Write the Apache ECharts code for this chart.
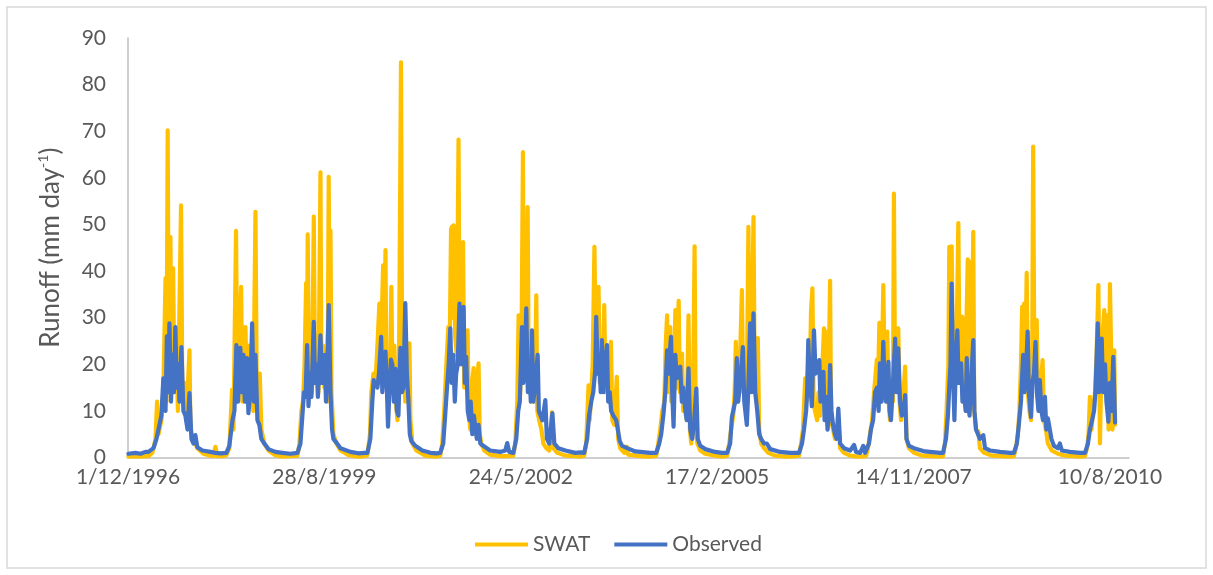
<!DOCTYPE html>
<html>
<head>
<meta charset="utf-8">
<script src="https://cdn.jsdelivr.net/npm/echarts@6/dist/echarts.min.js"></script>
<style>
  html, body { margin: 0; padding: 0; background: #fff; }
  #runoff-chart { width: 1213px; height: 575px; }
</style>
</head>
<body>
<div id="runoff-chart"></div>
<script>
// Excel date serials (1/12/1996 = 35400) and daily runoff, mm/day
const axisStartSerial = 35400
const axisEndSerial = 40497

const swatDay = [
  35402, 35438, 35464, 35489,
  35504, 35524, 35540, 35548, 35555, 35570, 35580, 35591, 35596, 35602, 35608, 35616, 35621, 35630, 35636, 35647, 35654, 35670, 35677, 35687, 35697, 35713, 35718, 35733, 35753, 35784, 35820,
  35835, 35845, 35855, 35881,
  35901, 35916, 35930, 35937, 35950, 35957, 35965, 35976, 35982, 35990, 35998, 36005, 36013, 36023, 36031, 36038, 36049, 36056, 36071, 36079, 36094, 36115, 36150,
  36186, 36227,
  36263, 36273, 36283, 36291, 36299, 36307, 36311, 36315, 36322, 36329, 36337, 36346, 36352, 36362, 36370, 36380, 36385, 36393, 36400, 36411, 36416, 36422, 36427, 36431, 36436, 36446, 36461, 36482, 36523,
  36573, 36604,
  36619, 36632, 36639, 36650, 36660, 36670, 36680, 36685, 36699, 36704, 36711, 36716, 36726, 36734, 36741, 36746, 36756, 36764, 36772, 36779, 36790, 36796, 36802, 36812, 36820, 36828, 36833, 36838, 36848, 36868, 36914,
  36940, 36970,
  36990, 37000, 37010, 37021, 37031, 37038, 37045, 37050, 37054, 37058, 37066, 37074, 37083, 37089, 37097, 37106, 37112, 37120, 37129, 37135, 37143, 37150, 37160, 37166, 37173, 37185, 37191, 37199, 37214, 37244, 37295,
  37331,
  37362, 37372, 37382, 37389, 37395, 37403, 37411, 37416, 37423, 37435, 37441, 37449, 37456, 37465, 37471, 37479, 37484, 37494, 37505, 37515, 37530, 37545, 37559, 37566, 37586, 37627,
  37678, 37703,
  37723, 37733, 37745, 37751, 37759, 37766, 37775, 37782, 37787, 37796, 37802, 37810, 37817, 37825, 37832, 37840, 37848, 37859, 37866, 37876, 37889, 37896, 37906, 37927, 37940, 37947, 38008,
  38059,
  38090, 38100, 38110, 38121, 38131, 38138, 38145, 38149, 38155, 38161, 38166, 38174, 38182, 38187, 38192, 38197, 38204, 38210, 38221, 38227, 38238, 38245, 38254, 38261, 38268, 38276, 38285, 38291, 38299, 38314, 38339, 38390,
  38425,
  38451, 38461, 38471, 38482, 38489, 38495, 38502, 38510, 38517, 38526, 38532, 38543, 38550, 38559, 38566, 38573, 38578, 38585, 38591, 38599, 38607, 38614, 38624, 38639, 38660, 38695,
  38721, 38772,
  38817, 38827, 38837, 38848, 38855, 38863, 38870, 38878, 38885, 38891, 38898, 38909, 38916, 38924, 38934, 38944, 38949, 38954, 38960, 38967, 38975, 38980, 38990, 39000, 39017, 39026, 39046, 39077,
  39097, 39128,
  39158, 39168, 39178, 39189, 39199, 39213, 39219, 39226, 39232, 39239, 39246, 39252, 39260, 39266, 39273, 39280, 39288, 39295, 39300, 39306, 39313, 39322, 39329, 39336, 39346, 39357, 39364, 39377, 39402, 39443,
  39490, 39535,
  39550, 39560, 39568, 39577, 39582, 39588, 39594, 39601, 39609, 39616, 39621, 39628, 39634, 39642, 39648, 39654, 39662, 39670, 39676, 39682, 39687, 39693, 39698, 39704, 39709, 39718, 39730, 39738, 39759, 39799,
  39850, 39891,
  39911, 39921, 39931, 39939, 39947, 39953, 39958, 39963, 39970, 39976, 39982, 39990, 39998, 40004, 40009, 40015, 40020, 40027, 40033, 40041, 40048, 40057, 40064, 40074, 40084, 40104, 40135, 40171,
  40220, 40247,
  40273, 40283, 40291, 40298, 40306, 40314, 40324, 40332, 40341, 40347, 40349, 40354, 40362, 40371, 40377, 40387, 40393, 40400, 40408, 40413, 40422, 40426
]
const swatRunoff = [
  0.2, 0.3, 0.2, 0.3,
  0.3, 1, 4, 12, 5, 8, 14, 38.5, 12, 70.2, 15, 47.3, 18, 40.6, 14, 22, 10, 54.1, 12, 16, 8, 23, 6, 4, 2, 0.8, 0.4,
  0.3, 2.3, 0.3, 0.3,
  0.5, 2, 14.5, 6, 48.6, 14, 22, 36.6, 12, 20, 28, 14, 24, 12, 22, 10, 52.7, 12, 18, 6, 3, 1.5, 0.5,
  0.2, 0.3,
  0.4, 3, 10, 12, 20, 37.4, 14, 47.9, 16, 20, 14, 51.7, 18, 26, 14, 61.2, 16, 24, 15, 22, 12, 60.2, 18, 48.7, 14, 5, 3, 1.5, 0.5,
  0.2, 0.3,
  0.5, 5, 14, 18, 16, 24, 33, 18, 41.2, 20, 44.5, 16, 22, 15, 36.6, 18, 24, 12, 8, 14, 84.8, 18, 20, 12, 24.5, 14, 24.5, 8, 3, 1.5, 0.4,
  0.3, 0.2,
  0.4, 3, 10, 20, 28, 24, 49, 49.5, 30, 49.8, 26, 22, 68.2, 20, 26, 46.2, 15, 22, 27.3, 10, 6, 15, 19.2, 5, 14, 20.2, 5, 3, 1.5, 0.6, 0.3,
  0.3,
  0.4, 3, 12, 30.5, 12, 20, 65.5, 18, 22, 53.7, 14, 18, 12, 21.6, 12, 34.8, 10, 8, 6, 3, 2, 1.5, 9.7, 2, 1, 0.4,
  0.3, 0.2,
  0.4, 3, 15.5, 8, 14, 20, 45.2, 22, 28, 36.6, 16, 24, 18, 32.7, 14, 20, 12, 24.8, 8, 7, 17.3, 4, 2, 1, 2.3, 0.6, 0.3,
  0.2,
  0.4, 3, 6, 10, 12, 24, 30.5, 14, 26, 28, 12, 18, 20, 31.6, 15, 24, 33.6, 14, 22.3, 10, 12, 8, 30.5, 6, 3, 8, 45.3, 6, 3, 1.5, 0.8, 0.4,
  0.2,
  0.4, 3, 6, 9, 14, 24.8, 12, 18, 22, 35.9, 14, 23, 10, 49.5, 18, 22, 30, 51.6, 16, 12, 25.6, 6, 3, 2, 1, 0.4,
  0.3, 0.2,
  0.4, 3, 6, 17, 12, 20, 14, 31.6, 36.3, 12, 10, 8, 14, 9, 18, 27.7, 14, 27, 10, 16, 37.9, 8, 6, 4, 8, 2, 1, 0.4,
  0.3, 0.2,
  0.3, 2, 5, 8, 14, 21, 16, 28.9, 14, 20, 37, 20, 24, 27, 12, 8, 14, 12, 56.6, 14, 20, 27.7, 12, 8, 12, 19.5, 4, 2, 1, 0.4,
  0.3, 0.2,
  0.3, 3, 10, 19.5, 45.2, 30, 45.3, 20, 14, 24, 30, 50.3, 20, 28, 30.2, 14, 22, 30, 42.5, 18, 42, 16, 28, 48.4, 10, 6, 5.6, 2, 1, 0.4,
  0.3, 0.2,
  0.3, 2, 5, 10, 20, 32.3, 20, 33, 22, 39.6, 14, 10, 8, 20, 66.7, 20, 26, 29.5, 14, 12, 16, 20.9, 8, 6, 3, 1.5, 0.8, 0.4,
  0.3, 0.2,
  0.3, 2, 5, 13, 6, 10, 14, 22, 37, 12, 3, 14, 26, 31.6, 20, 30.5, 6, 37.2, 18, 6, 23, 7
]

const observedDay = [
  35402, 35438, 35464, 35489,
  35504, 35530, 35545, 35560, 35570, 35580, 35591, 35598, 35606, 35611, 35619, 35626, 35634, 35641, 35649, 35657, 35662, 35672, 35682, 35692, 35703, 35713, 35723, 35733, 35743, 35753, 35779, 35820,
  35845, 35871,
  35901, 35916, 35932, 35942, 35952, 35960, 35972, 35980, 35988, 35995, 36006, 36013, 36023, 36032, 36041, 36049, 36059, 36069, 36079, 36094, 36115, 36150,
  36186, 36227,
  36263, 36278, 36288, 36296, 36304, 36312, 36319, 36327, 36334, 36346, 36352, 36360, 36367, 36380, 36388, 36393, 36402, 36408, 36413, 36422, 36431, 36439, 36446, 36461, 36482, 36533,
  36573, 36604,
  36619, 36634, 36644, 36651, 36660, 36670, 36678, 36689, 36695, 36703, 36711, 36718, 36724, 36731, 36739, 36746, 36754, 36762, 36769, 36777, 36787, 36795, 36802, 36812, 36820, 36828, 36835, 36843, 36863, 36899, 36940,
  36970,
  36990, 37005, 37015, 37026, 37033, 37041, 37048, 37056, 37064, 37071, 37079, 37088, 37097, 37109, 37115, 37122, 37130, 37138, 37145, 37153, 37161, 37168, 37176, 37185, 37194, 37209, 37244, 37295, 37321, 37331, 37341,
  37362, 37377, 37387, 37395, 37406, 37413, 37420, 37428, 37436, 37443, 37451, 37457, 37464, 37474, 37486, 37492, 37499, 37510, 37525, 37533, 37545, 37561, 37571, 37591, 37627, 37678,
  37703,
  37723, 37738, 37748, 37759, 37769, 37779, 37784, 37792, 37799, 37807, 37813, 37820, 37830, 37839, 37845, 37853, 37860, 37871, 37886, 37896, 37904, 37916, 37942, 37983, 38059,
  38090, 38105, 38115, 38127, 38136, 38145, 38151, 38165, 38171, 38178, 38187, 38194, 38202, 38212, 38220, 38227, 38238, 38245, 38254, 38263, 38273, 38283, 38294, 38301, 38314, 38339, 38390,
  38425,
  38451, 38466, 38475, 38482, 38492, 38500, 38507, 38517, 38531, 38538, 38551, 38558, 38568, 38576, 38585, 38594, 38604, 38614, 38624, 38639, 38653, 38670, 38721, 38772,
  38817, 38832, 38842, 38853, 38858, 38864, 38870, 38882, 38888, 38893, 38901, 38909, 38920, 38926, 38932, 38941, 38947, 38954, 38962, 38970, 38975, 38982, 38990, 39000, 39008, 39017, 39026, 39046, 39077, 39097, 39107, 39128, 39144, 39153,
  39173, 39183, 39194, 39204, 39214, 39222, 39229, 39237, 39246, 39252, 39260, 39272, 39278, 39285, 39293, 39306, 39313, 39322, 39331, 39340, 39349, 39357, 39364, 39377, 39402, 39458, 39535,
  39550, 39565, 39575, 39583, 39588, 39594, 39601, 39608, 39614, 39623, 39629, 39637, 39642, 39649, 39657, 39665, 39671, 39677, 39685, 39693, 39704, 39710, 39718, 39728, 39738, 39755, 39764, 39789, 39840, 39891,
  39911, 39926, 39936, 39947, 39958, 39964, 39972, 39981, 39987, 39998, 40005, 40013, 40021, 40028, 40036, 40043, 40051, 40059, 40069, 40076, 40084, 40094, 40102, 40115, 40135, 40145, 40155, 40196, 40247,
  40273, 40288, 40298, 40309, 40319, 40326, 40338, 40344, 40349, 40358, 40365, 40375, 40382, 40392, 40400, 40408, 40417, 40426
]
const observedRunoff = [
  0.8, 1.0, 0.8, 1.2,
  1.2, 2, 4, 7, 9, 17, 10, 26, 14, 28.8, 12, 22, 14, 28, 15, 20, 12, 23.7, 10, 9, 6, 13.8, 4, 3, 4.8, 2.2, 1.5, 1.2,
  1.0, 0.9,
  1, 2.5, 8, 10, 24.1, 12, 23.5, 14, 22, 12, 21.3, 9.5, 14, 28.8, 12, 22, 8, 7, 4, 3, 1.8, 1.2,
  1.0, 0.8,
  1, 3, 9, 14, 13, 24.1, 11, 18, 13, 29.1, 16, 20, 13, 26.2, 16, 20, 22, 12, 18, 32.7, 14, 6, 4, 3.2, 2, 1.2,
  0.9, 1.0,
  1, 4, 12, 16.6, 17, 15, 18, 25.9, 14, 20, 22.7, 15, 6.6, 14, 21, 20, 12, 19, 10, 9, 23.5, 14, 15, 33.1, 18, 12, 5, 3.5, 2.5, 1.5, 1,
  0.9,
  1, 3, 9, 16, 20, 27.7, 16, 22, 12, 18, 20, 33, 20, 32.3, 16, 21.6, 10, 8, 12, 5, 9, 8.7, 4, 7, 3, 2.5, 1.5, 1.2, 1.5, 3.1, 1.2,
  1, 4, 10, 12, 28, 16, 20, 32, 14, 20, 12, 27.3, 12, 16, 22, 10, 10, 8, 12.3, 4, 3, 9.5, 3, 2, 1.5, 1,
  1.1,
  1, 4, 9, 12, 14, 18.7, 30.2, 18, 22, 14, 25.2, 14, 20, 24.1, 12, 14, 10, 9, 8, 8, 3.5, 2.5, 2, 1.3, 1,
  1, 3, 5, 9.5, 14, 23, 18, 25.9, 14, 6.6, 22, 17, 19, 19.5, 12, 15, 10, 8, 19.1, 6, 4, 8, 14.8, 4, 2.5, 1.8, 1.2,
  1.0,
  1, 3, 8.7, 9, 12, 21.3, 12, 16, 23.7, 12, 7, 14, 28.8, 14, 30.9, 14, 10, 5, 4, 3, 3, 1.8, 1.2, 1,
  1, 3, 6, 10, 14, 25.2, 18, 11, 20, 27.3, 18, 19, 20.9, 12, 15, 18.4, 8, 13, 6, 10, 19.8, 10, 7, 5, 4, 10.5, 3, 2, 1.5, 2.7, 1.2, 1, 2.5, 1,
  3, 6, 8, 14, 15, 10, 20.2, 12, 24.8, 16, 12, 20.5, 10, 8, 14, 25.5, 14, 23.4, 12, 9, 10, 13.4, 4, 2.5, 2, 1.3, 1,
  1, 4, 9, 16, 20, 37.3, 18, 8, 18, 27.3, 16, 18, 20.2, 12, 14, 10, 21.3, 12, 9, 16, 25.2, 10, 6, 5, 4, 4.8, 2, 1.5, 1.2, 1,
  1, 3, 7, 12, 22, 14, 18, 27, 14, 8.7, 16, 18, 24.8, 14, 10, 16.6, 10, 8, 13, 6, 8.4, 8.4, 4, 2.5, 2, 3, 1.5, 1.2, 1,
  1, 3, 6, 8, 10, 14, 28.8, 14, 17, 25.5, 14, 20, 12, 7.7, 16, 10, 21.6, 7.5
]

const yTicks = [0, 90, 10]
const seriesNames = ['SWAT', 'Observed']
const seriesColors = ['#FFC000', '#4472C4']

const toPairs = (days, vals) => days.map((d, i) => [d - axisStartSerial, vals[i]])

const dayLabel = (v) => {
  const dt = new Date(Date.UTC(1996, 11, 1) + v * 86400000)
  return dt.getUTCDate() + '/' + (dt.getUTCMonth() + 1) + '/' + dt.getUTCFullYear()
}

const font = 'Lato, "Open Sans", sans-serif'
const textColor = '#595959'

const myChart = echarts.init(document.getElementById('runoff-chart'), null, { renderer: 'canvas' })

const option = {
  animation: false,
  backgroundColor: '#fff',
  textStyle: { fontFamily: font },
  graphic: [
    {
      type: 'rect',
      shape: { x: 7, y: 7, width: 1199, height: 561 },
      style: { fill: 'none', stroke: '#D9D9D9', lineWidth: 1.5 },
      silent: true,
    },
  ],
  grid: { left: 128, right: 84, top: 38, bottom: 117.5 },
  legend: {
    left: 470,
    top: 529,
    icon: 'rect',
    itemWidth: 53,
    itemHeight: 4,
    itemGap: 24,
    textStyle: { color: textColor, fontSize: 21, fontFamily: font },
    data: seriesNames,
  },
  xAxis: {
    type: 'value',
    min: 0,
    max: axisEndSerial - axisStartSerial,
    interval: 1000,
    axisLine: { show: true, lineStyle: { color: '#BFBFBF', width: 1.5 } },
    axisTick: { show: false },
    splitLine: { show: false },
    axisLabel: {
      color: textColor,
      fontSize: 21,
      fontFamily: font,
      margin: 9,
      showMaxLabel: false,
      formatter: dayLabel,
    },
  },
  yAxis: {
    type: 'value',
    min: yTicks[0],
    max: yTicks[1],
    interval: yTicks[2],
    name: '{t|Runoff (mm day}{s|-1}{t|)}',
    nameLocation: 'middle',
    nameRotate: 90,
    nameGap: 62,
    nameTextStyle: {
      rich: {
        t: { fontSize: 26, color: textColor, fontFamily: font, lineHeight: 30 },
        s: { fontSize: 14, color: textColor, fontFamily: font, verticalAlign: 'top', lineHeight: 30 },
      },
    },
    axisLine: { show: true, lineStyle: { color: '#BFBFBF', width: 1.5 } },
    axisTick: { show: false },
    splitLine: { show: false },
    axisLabel: { color: textColor, fontSize: 21, fontFamily: font, margin: 22 },
  },
  series: [
    {
      name: seriesNames[0],
      type: 'line',
      data: toPairs(swatDay, swatRunoff),
      symbol: 'none',
      color: seriesColors[0],
      lineStyle: { width: 4.2, color: seriesColors[0], join: 'round', cap: 'round' },
    },
    {
      name: seriesNames[1],
      type: 'line',
      data: toPairs(observedDay, observedRunoff),
      symbol: 'none',
      color: seriesColors[1],
      lineStyle: { width: 4.2, color: seriesColors[1], join: 'round', cap: 'round' },
    },
  ],
}

myChart.setOption(option)
</script>
</body>
</html>
